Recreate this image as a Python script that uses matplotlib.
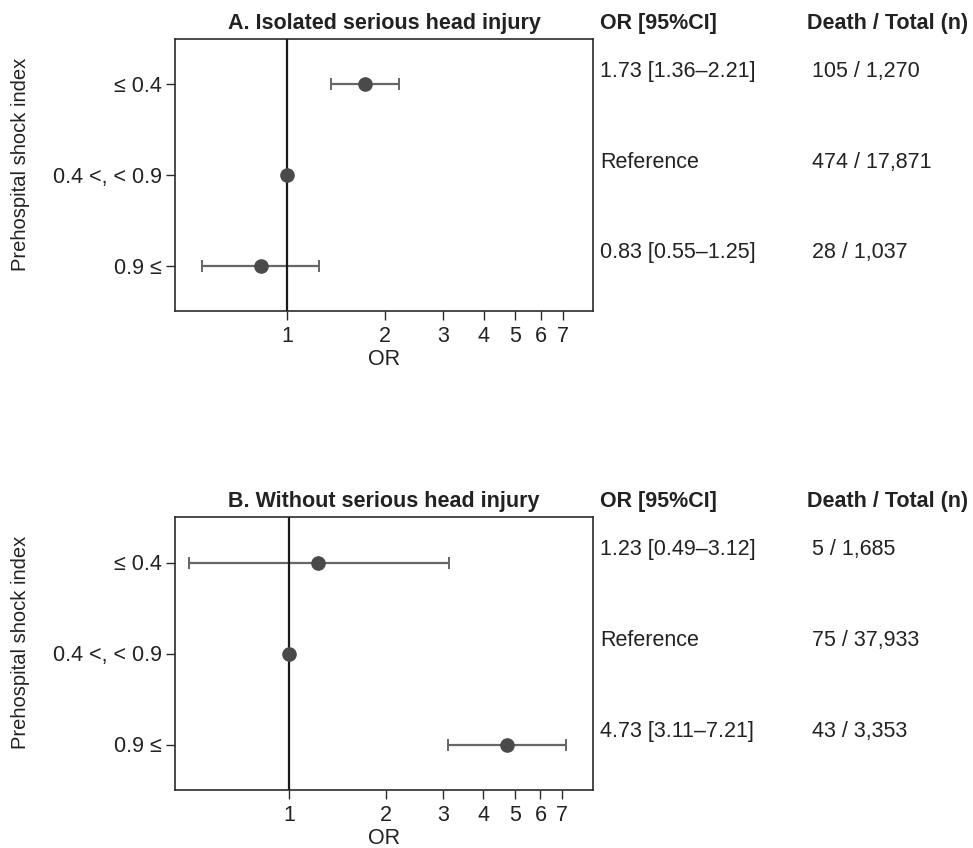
import matplotlib
matplotlib.use("Agg")
import matplotlib.pyplot as plt
import matplotlib.transforms as mtransforms
from matplotlib.ticker import FixedLocator, FixedFormatter, NullLocator

# ---- data ----
groups = ["≤ 0.4", "0.4 <, < 0.9", "0.9 ≤"]
xticks = [1, 2, 3, 4, 5, 6, 7]

titleA = "A. Isolated serious head injury"
orA = [1.73, 1.00, 0.83]
loA = [1.36, 1.00, 0.55]
hiA = [2.21, 1.00, 1.25]
ciA = ["1.73 [1.36–2.21]", "Reference", "0.83 [0.55–1.25]"]
deathA = [105, 474, 28]
totalA = [1270, 17871, 1037]

titleB = "B. Without serious head injury"
orB = [1.23, 1.00, 4.73]
loB = [0.49, 1.00, 3.11]
hiB = [3.12, 1.00, 7.21]
ciB = ["1.23 [0.49–3.12]", "Reference", "4.73 [3.11–7.21]"]
deathB = [5, 75, 43]
totalB = [1685, 37933, 3353]

# ---- style ----
plt.rcParams["font.family"] = ["Liberation Sans", "DejaVu Sans"]
FS = 15.5
W, H = 973, 848
fig = plt.figure(figsize=(W / 100, H / 100), dpi=100)

def px_rect(left, top, right, bottom):
    return [left / W, 1 - bottom / H, (right - left) / W, (bottom - top) / H]

panels = [
    (px_rect(175, 39, 593, 311), titleA, orA, loA, hiA, ciA, deathA, totalA, (0.454, 8.65)),
    (px_rect(175, 517, 593, 790), titleB, orB, loB, hiB, ciB, deathB, totalB, (0.444, 8.73)),
]

edge = "#2b2b2b"
for rect, title, orv, lo, hi, ci, de, to, xl in panels:
    ax = fig.add_axes(rect)
    ypos = list(range(len(groups)))
    xerr = [[o - l for o, l in zip(orv, lo)], [h - o for o, h in zip(orv, hi)]]
    ax.errorbar(orv, ypos, xerr=xerr, fmt="none", ecolor="#666666",
                elinewidth=1.6, capsize=4, capthick=1.4, zorder=2)
    ax.axvline(1, color="#1a1a1a", lw=1.6, zorder=3)
    ax.plot(orv, ypos, "o", color="#4a4a4a", ms=9.5, zorder=4)
    ax.set_xscale("log")
    ax.set_xlim(*xl)
    ax.set_ylim(2.5, -0.5)
    ax.xaxis.set_major_locator(FixedLocator(xticks))
    ax.xaxis.set_major_formatter(FixedFormatter([str(t) for t in xticks]))
    ax.xaxis.set_minor_locator(NullLocator())
    ax.set_yticks(ypos)
    ax.set_yticklabels(groups)
    ax.tick_params(axis="both", labelsize=FS, length=6.5, width=1.0,
                   color=edge, labelcolor="#222222")
    ax.tick_params(axis="x", pad=4)
    ax.tick_params(axis="y", pad=3)
    for s in ax.spines.values():
        s.set_color(edge)
        s.set_linewidth(1.2)
    ax.set_xlabel("OR", fontsize=FS, color="#222222", labelpad=2)
    ax.set_ylabel("Prehospital shock index", fontsize=14.5, color="#222222")
    ax.yaxis.set_label_coords(-0.347, 0.54)
    ax.set_title(title, fontsize=FS, fontweight="bold", color="#222222", pad=7)

    # header texts aligned with title baseline
    hdr_tr = mtransforms.blended_transform_factory(fig.transFigure, ax.transAxes) + \
        mtransforms.ScaledTranslation(0, 7 / 72, fig.dpi_scale_trans)
    ax.text(600 / W, 1.0, "OR [95%CI]", transform=hdr_tr, fontsize=FS,
            fontweight="bold", color="#222222", va="baseline", ha="left")
    ax.text(807 / W, 1.0, "Death / Total (n)", transform=hdr_tr, fontsize=FS,
            fontweight="bold", color="#222222", va="baseline", ha="left")

    row_tr = mtransforms.blended_transform_factory(fig.transFigure, ax.transData) + \
        mtransforms.ScaledTranslation(0, 0.13, fig.dpi_scale_trans)
    for y, c, d, t in zip(ypos, ci, de, to):
        ax.text(600 / W, y, c, transform=row_tr, fontsize=FS, color="#222222",
                va="center", ha="left")
        ax.text(812 / W, y, f"{d:,} / {t:,}", transform=row_tr, fontsize=FS,
                color="#222222", va="center", ha="left")

fig.savefig("out.png", dpi=100, facecolor="white")
